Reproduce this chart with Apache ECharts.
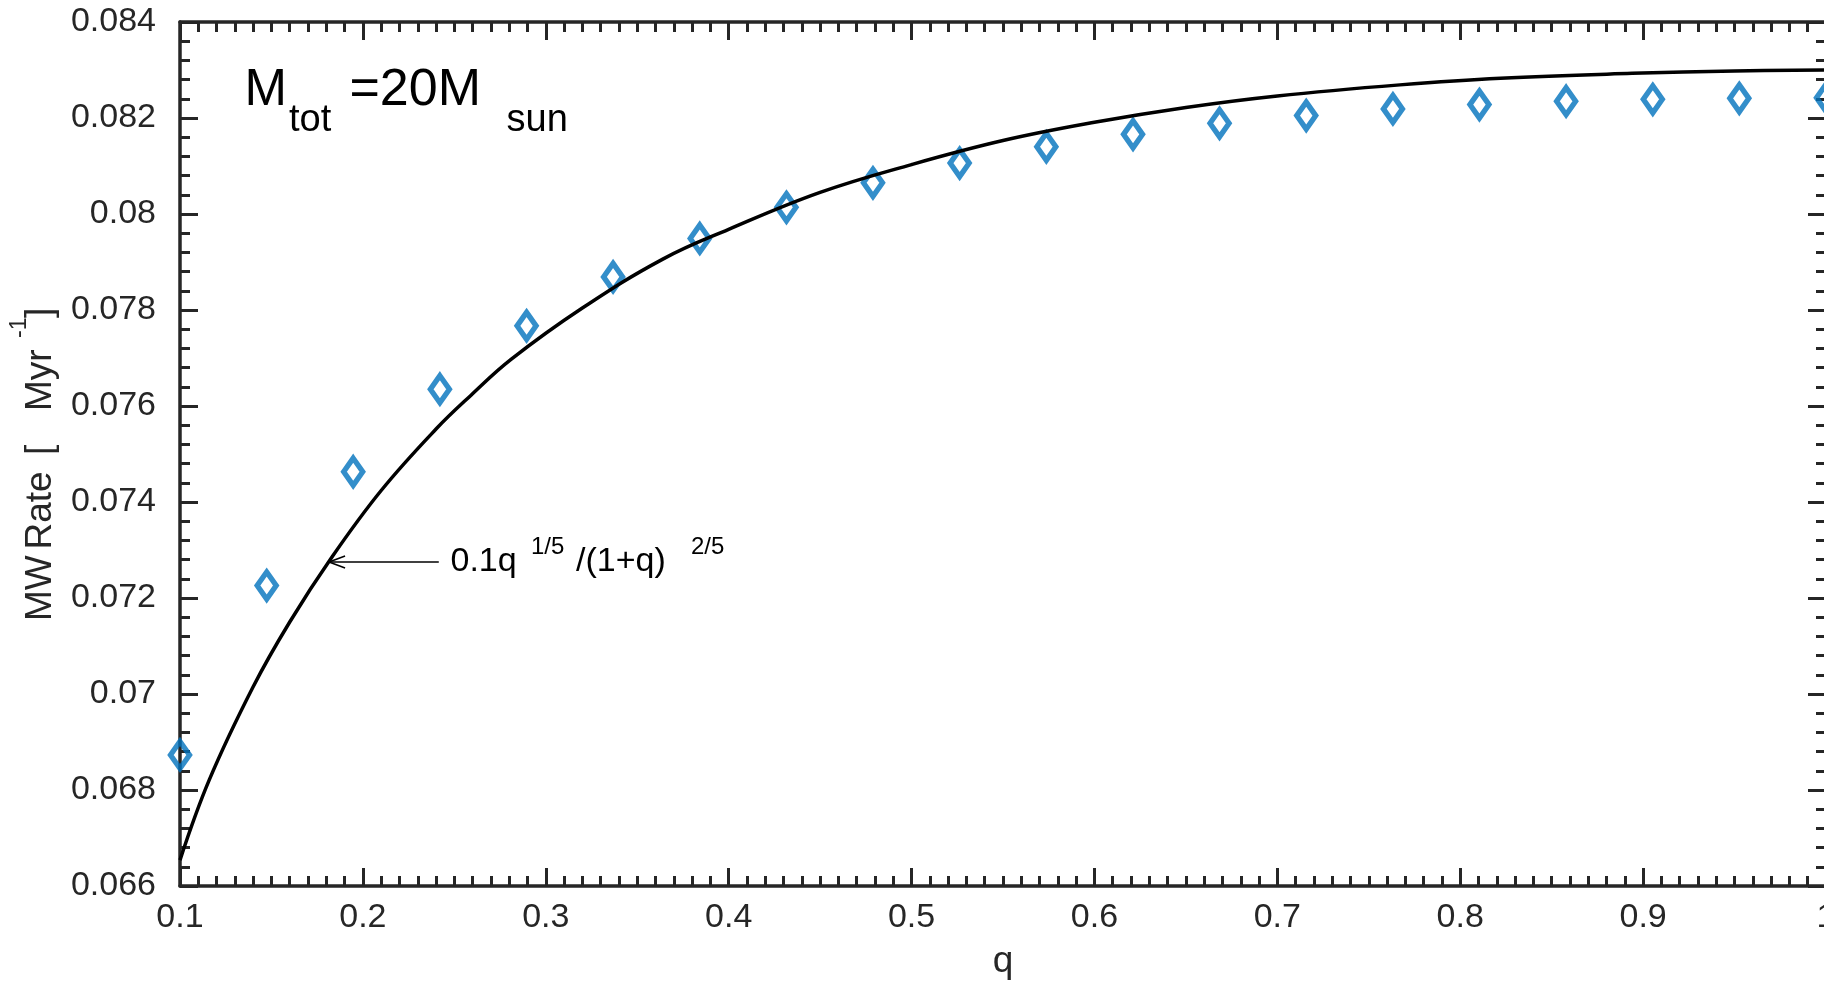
<!DOCTYPE html>
<html>
<head>
<meta charset="utf-8">
<script src="https://cdn.jsdelivr.net/npm/echarts@6/dist/echarts.min.js"></script>
<style>
  html, body { margin: 0; padding: 0; background: #fff; }
  #chart { width: 1824px; height: 986px; }
</style>
</head>
<body>
<div id="chart"></div>
<script>
// Simulated merger-wave rate for a 20 Msun total mass, sampled in mass ratio q
const qSim = [0.1000, 0.1474, 0.1947, 0.2421, 0.2895, 0.3368, 0.3842, 0.4316, 0.4789, 0.5263,
              0.5737, 0.6211, 0.6684, 0.7158, 0.7632, 0.8105, 0.8579, 0.9053, 0.9526, 1.0000];
const rateSim = [0.06873, 0.07226, 0.07463, 0.07635, 0.07767, 0.07869, 0.07949, 0.08014, 0.08065, 0.08106,
                 0.08140, 0.08166, 0.08189, 0.08205, 0.08219, 0.08228, 0.08235, 0.08239, 0.08241, 0.08242];

// Analytic scaling curve 0.1 q^(1/5) / (1+q)^(2/5), normalised to the simulations
const qFit = [0.100, 0.116, 0.140, 0.160, 0.183, 0.210, 0.240, 0.259, 0.281, 0.320, 0.364, 0.400,
              0.450, 0.500, 0.550, 0.600, 0.650, 0.700, 0.767, 0.822, 0.894, 0.950, 1.000];
const rateFit = [0.06654, 0.06821, 0.07015, 0.07150, 0.07285, 0.07424, 0.07552, 0.07622, 0.07697, 0.07804, 0.07906, 0.07968,
                 0.08045, 0.08103, 0.08153, 0.08191, 0.08222, 0.08246, 0.08269, 0.08283, 0.08293, 0.08298, 0.08300];

// Axis ranges and tick steps
const xRange = [0.1, 1.0];
const xStep = 0.1;
const yRange = [0.066, 0.084];
const yStep = 0.002;

// Arrow pointing from the formula to the curve (data coordinates)
const arrowTail = [0.2415, 0.07275];
const arrowTip = [0.1815, 0.07275];

const FONT = '"Liberation Sans", Arial, Helvetica, sans-serif';
const AX = '#262626';
const BLUE = '#0072bd';

const chart = echarts.init(document.getElementById('chart'), null, { renderer: 'canvas' });

function xAxisCfg(pos, showLabels) {
  return {
    type: 'value', position: pos, min: xRange[0], max: xRange[1], interval: xStep,
    axisLine: { show: true, onZero: false, lineStyle: { color: AX, width: 3.5 } },
    axisTick: { show: true, inside: true, length: 18, lineStyle: { color: AX, width: 3 } },
    minorTick: { show: true, splitNumber: 10, length: 10, lineStyle: { color: AX, width: 3 } },
    splitLine: { show: false },
    axisLabel: { show: showLabels, color: AX, fontSize: 34, fontFamily: FONT, margin: 15,
                 showMinLabel: true, showMaxLabel: true, hideOverlap: false }
  };
}
function yAxisCfg(pos, showLabels) {
  return {
    type: 'value', position: pos, min: yRange[0], max: yRange[1], interval: yStep,
    axisLine: { show: true, onZero: false, lineStyle: { color: AX, width: 3.5 } },
    axisTick: { show: true, inside: true, length: 18, lineStyle: { color: AX, width: 3 } },
    minorTick: { show: true, splitNumber: 5, length: 10, lineStyle: { color: AX, width: 3 } },
    splitLine: { show: false },
    axisLabel: { show: showLabels, color: AX, fontSize: 34, fontFamily: FONT, margin: 24,
                 showMinLabel: true, showMaxLabel: true, hideOverlap: false }
  };
}

const xBottom = xAxisCfg('bottom', true);
xBottom.name = 'q';
xBottom.nameLocation = 'middle';
xBottom.nameGap = 57;
xBottom.nameTextStyle = { color: AX, fontSize: 37, fontFamily: FONT };

chart.setOption({
  animation: false,
  backgroundColor: '#ffffff',
  grid: { left: 180, top: 22, width: 1646, height: 864, containLabel: false, outerBoundsMode: 'none' },
  xAxis: [xBottom, xAxisCfg('top', false)],
  yAxis: [yAxisCfg('left', true), yAxisCfg('right', false)],
  series: [
    {
      name: 'simulation', type: 'scatter', xAxisIndex: 0, yAxisIndex: 0,
      data: qSim.map((q, i) => [q, rateSim[i]]),
      symbol: 'diamond', symbolSize: [19, 27], clip: false, z: 2,
      itemStyle: { color: 'rgba(255,255,255,0)', borderColor: BLUE, borderWidth: 5.5 }
    },
    {
      name: 'fit', type: 'line', xAxisIndex: 0, yAxisIndex: 0,
      data: qFit.map((q, i) => [q, rateFit[i]]),
      smooth: 0.4, showSymbol: false, symbol: 'none', z: 3,
      lineStyle: { color: '#000', width: 3.5 }
    }
  ]
});

// Text annotations, axis title with superscript, and the arrow
const tail = chart.convertToPixel({ xAxisIndex: 0, yAxisIndex: 0 }, arrowTail);
const tip = chart.convertToPixel({ xAxisIndex: 0, yAxisIndex: 0 }, arrowTip);

function txt(text, x, y, size, opts) {
  return Object.assign({
    type: 'text', x: x, y: y, z: 10,
    style: { text: text, fill: (opts && opts.fill) || '#000', font: size + 'px ' + FONT,
             align: 'left', verticalAlign: 'middle' }
  }, (opts && opts.el) || {});
}
const rot = { el: { rotation: Math.PI / 2 }, fill: AX };

chart.setOption({
  graphic: [
    // Panel title: M_tot = 20 M_sun
    txt('M', 244.5, 90.7, 51),
    txt('tot', 289, 120.2, 38),
    txt('=20M', 349.5, 90.7, 52),
    txt('sun', 506.5, 120.2, 38),
    // Formula label
    txt('0.1q', 450.5, 561.2, 34),
    txt('1/5', 531, 547, 24),
    txt('/(1+q)', 576, 561.2, 34),
    txt('2/5', 691, 547, 24),
    // Y axis title, drawn bottom to top
    txt('MW', 41, 621, 37, rot),
    txt('Rate', 41, 549.5, 37, rot),
    txt('[', 41, 455, 37, rot),
    txt('Myr', 41, 411, 37, rot),
    txt('-1', 20, 338, 23, rot),
    txt(']', 41, 318, 37, rot),
    // Arrow
    { type: 'line', z: 10, shape: { x1: tail[0], y1: tail[1], x2: tip[0] + 1, y2: tip[1] },
      style: { stroke: '#000', lineWidth: 1.3 } },
    { type: 'polyline', z: 10,
      shape: { points: [[tip[0] + 16, tip[1] - 6], [tip[0], tip[1]], [tip[0] + 16, tip[1] + 6]] },
      style: { stroke: '#000', lineWidth: 1.6, fill: null } }
  ]
});
</script>
</body>
</html>
